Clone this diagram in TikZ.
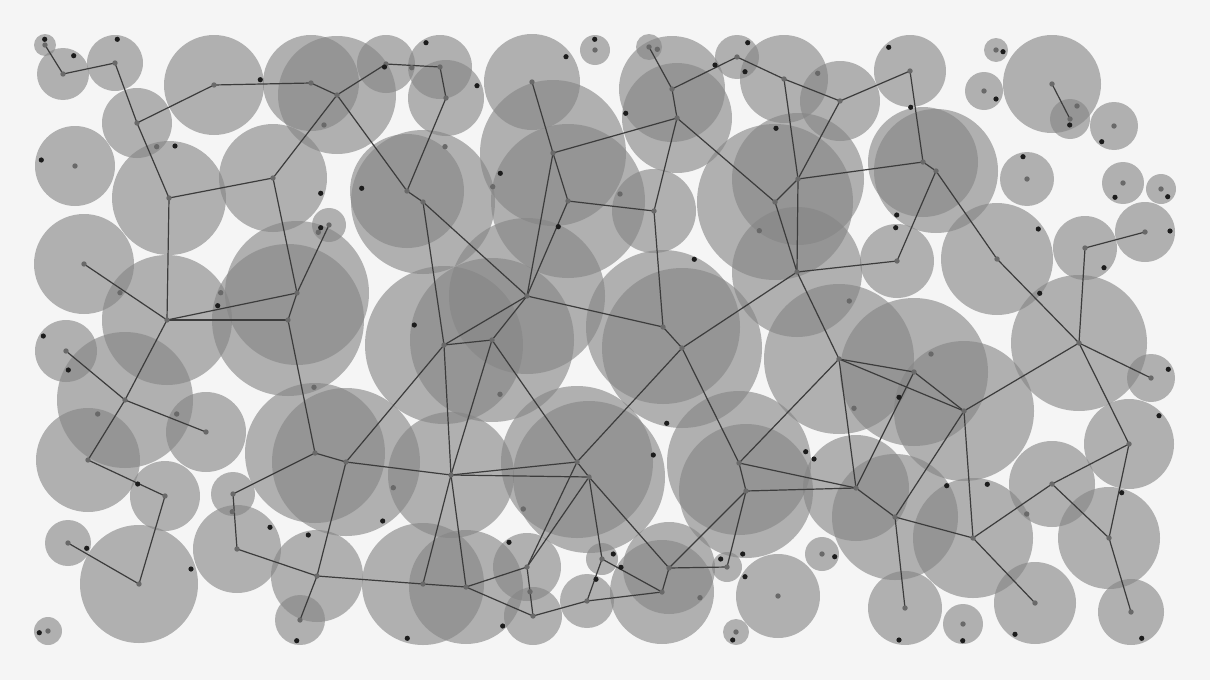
\documentclass[tikz,border=0pt]{standalone}
\definecolor{bg}{RGB}{245,245,245}
\definecolor{disk}{RGB}{134,134,134}
\definecolor{edgec}{RGB}{60,60,60}
\definecolor{vdotc}{RGB}{105,105,105}
\definecolor{bdotc}{RGB}{28,28,28}
\tikzset{
  disc/.style={fill=disk,fill opacity=0.62},
  edge/.style={draw=edgec,line width=1.2pt},
  vdot/.style={fill=vdotc},
  bdot/.style={fill=bdotc}
}
\begin{document}
\begin{tikzpicture}[x=1pt,y=-1pt]
\path[fill=bg] (0,0) rectangle (1210,680);
\useasboundingbox (0,0) rectangle (1210,680);
% vertices (circle centres)
\foreach \n/\x/\y in {a1/45/45,a2/63/74,a3/115/63,a4/137/123,a5/214/85,a6/169/198,a7/273/178,a8/311/83,a9/337/95,a10/386/64,
 a11/440/67,a12/446/98,a13/407/191,a14/423/202,a15/329/225,a16/297/293,a17/288/320,a18/167/320,a19/84/264,a20/66/351,
 a21/125/400,a22/206/432,a23/88/460,a24/165/496,a25/139/584,a26/68/543,a27/315/453,a28/233/494,a29/237/549,a30/346/462,
 a31/317/576,a32/300/620,a33/423/584,a34/444/345,a35/492/340,a36/527/296,a37/451/475,a38/553/153,a39/568/201,a40/532/82,
 a41/654/211,a42/677/118,a43/672/89,a44/649/47,a45/737/57,a46/784/79,a47/840/101,a48/798/179,a49/775/202,a50/910/71,
 a51/923/162,a52/936/171,a53/797/272,a54/663/327,a55/682/348,a56/577/462,a57/589/477,a58/739/463,a59/746/491,a60/897/261,
 a61/839/359,a62/997/259,a63/1079/343,a64/1085/248,a65/1145/232,a66/1151/378,a67/1129/444,a68/964/411,a69/914/372,a70/856/488,
 a71/895/517,a72/905/608,a73/973/538,a74/1052/484,a75/1035/603,a76/1109/538,a77/1131/612,a78/669/568,a79/662/592,a80/727/567,
 a81/602/559,a82/587/601,a83/533/616,a84/527/567,a85/466/587,a86/1052/84,a87/1070/119,
 b1/75/166,b2/48/631,b3/595/50,b4/996/50,b5/984/91,b6/1114/126,b7/1027/179,b8/1123/183,b9/1161/189,b10/778/596,
 b11/822/554,b12/736/632,b13/963/624}
  {\coordinate (\n) at (\x,\y);}
% discs
\foreach \n/\r in {a1/11,a2/26,a3/28,a4/35,a5/50,a6/57,a7/54,a8/48,a9/59,a10/29,
 a11/32,a12/38,a13/57,a14/72,a15/17,a16/72,a17/76,a18/65,a19/50,a20/31,
 a21/68,a22/40,a23/52,a24/35,a25/59,a26/23,a27/70,a28/22,a29/44,a30/74,
 a31/46,a32/25,a33/61,a34/79,a35/82,a36/78,a37/63,a38/73,a39/77,a40/48,
 a41/42,a42/55,a43/53,a44/13,a45/22,a46/44,a47/40,a48/66,a49/78,a50/36,
 a51/55,a52/62,a53/65,a54/77,a55/80,a56/76,a57/76,a58/72,a59/67,a60/37,
 a61/75,a62/56,a63/68,a64/32,a65/30,a66/24,a67/45,a68/70,a69/74,a70/53,
 a71/63,a72/37,a73/60,a74/43,a75/41,a76/51,a77/33,a78/46,a79/52,a80/15,
 a81/16,a82/27,a83/29,a84/34,a85/57,a86/49,a87/20,
 b1/40,b2/14,b3/15,b4/12,b5/19,b6/24,b7/27,b8/21,b9/15,b10/42,
 b11/17,b12/13,b13/20}
  {\fill[disc] (\n) circle[radius=\r pt];}
% connectors
\foreach \p/\q in {a1/a2,a2/a3,a3/a4,a4/a5,a4/a6,a5/a8,a8/a9,a9/a10,a10/a11,a11/a12,
 a12/a13,a9/a13,a9/a7,a13/a14,a6/a7,a6/a18,a7/a16,a16/a15,a16/a18,a16/a17,
 a17/a18,a19/a18,a18/a21,a20/a21,a21/a22,a21/a23,a23/a24,a24/a25,a25/a26,a17/a27,
 a27/a28,a28/a29,a29/a31,a27/a30,a30/a31,a31/a32,a31/a33,a30/a34,a30/a37,a14/a34,
 a14/a36,a34/a36,a34/a35,a34/a37,a35/a36,a35/a37,a35/a56,a36/a38,a36/a39,a36/a54,
 a38/a40,a38/a39,a38/a42,a39/a41,a41/a42,a41/a54,a44/a43,a43/a42,a43/a45,a42/a49,
 a45/a46,a46/a47,a46/a48,a47/a48,a47/a50,a48/a49,a48/a51,a48/a53,a49/a53,a54/a55,
 a55/a53,a55/a56,a55/a58,a53/a60,a53/a61,a60/a52,a50/a51,a51/a52,a52/a62,a62/a63,
 a63/a64,a64/a65,a63/a66,a63/a67,a63/a68,a68/a69,a69/a61,a68/a61,a68/a73,a68/a71,
 a69/a70,a61/a70,a61/a58,a70/a58,a70/a59,a70/a71,a71/a72,a71/a73,a73/a74,a73/a75,
 a74/a67,a74/a76,a76/a67,a76/a77,a58/a59,a59/a78,a59/a80,a78/a80,a78/a79,a78/a57,
 a79/a81,a79/a82,a81/a57,a81/a82,a82/a83,a84/a83,a85/a83,a85/a84,a33/a85,a37/a33,
 a37/a85,a37/a56,a37/a57,a56/a57,a56/a84,a57/a84,a87/a86}
  {\draw[edge] (\p) -- (\q);}
% centre dots
\foreach \n in {a1,a2,a3,a4,a5,a6,a7,a8,a9,a10,a11,a12,a13,a14,a15,a16,a17,a18,a19,a20,
 a21,a22,a23,a24,a25,a26,a27,a28,a29,a30,a31,a32,a33,a34,a35,a36,a37,a38,a39,a40,
 a41,a42,a43,a44,a45,a46,a47,a48,a49,a50,a51,a52,a53,a54,a55,a56,a57,a58,a59,a60,
 a61,a62,a63,a64,a65,a66,a67,a68,a69,a70,a71,a72,a73,a74,a75,a76,a77,a78,a79,a80,
 a81,a82,a83,a84,a85,a86,a87,b1,b2,b3,b4,b5,b6,b7,b8,b9,b10,b11,b12,b13}
  {\fill[vdot] (\n) circle[radius=2.7pt];}
% other grey dots
\foreach \x/\y in {411.7/67.7,445/146.7,324/125,318.3/232.3,492.7/186.7,657.3/49.3,620/194,817.7/73.3,1077/106,156.7/146.7,
 120/292.7,220.7/292.7,97.7/414,176.7/414,232.3/511.7,314/387.3,500/394.3,393.3/487.7,523.3/509,530/591.7,
 700/597.7,759.3/230.7,849.3/301,854/408.3,931/354,1026.7/514}
  {\fill[vdot] (\x,\y) circle[radius=2.7pt];}
% black dots
\foreach \x/\y in {44.7/39.3,73.7/55.7,117.3/39.3,260.3/79.7,41.3/160,175/146,384.5/67,426/42.7,477/85.7,566/56.7,
 594.7/39.3,361.7/188.3,320.7/193.3,500.3/173.3,558.3/226.7,625.7/113.3,776/128.3,715/65,747.7/42.7,745/71.7,
 888.7/47.3,910.7/107.3,896.7/215,895.7/227.7,1003/51.7,996/99,1069.7/125,1101.7/141.7,1023/156.7,1115/197.3,
 1167.7/196.7,1038.3/229,1104/267.7,1170/231,1039.7/293.3,1168.3/369.3,1159/415.7,43.3/336,68.3/370,217.7/305.7,
 320.7/227.7,414.3/325,694.3/259.3,899/397.3,666.7/423.3,653.3/455,805.7/451.7,814/459,137.7/484,191/569,
 86.7/548.3,39.3/632.7,270/527.3,296.7/640.7,308.3/535,382.7/521,509/542.3,407.3/638.3,502.7/626,596/579.3,
 613.3/554,621/567.3,720.7/559,742.7/554,745/576.7,732.7/640,834.7/556.7,899/640,946.7/485.7,987.3/484.3,
 1121.7/492.7,1015/634.3,962.7/640.7,1141.7/638.3}
  {\fill[bdot] (\x,\y) circle[radius=2.6pt];}
\end{tikzpicture}
\end{document}
